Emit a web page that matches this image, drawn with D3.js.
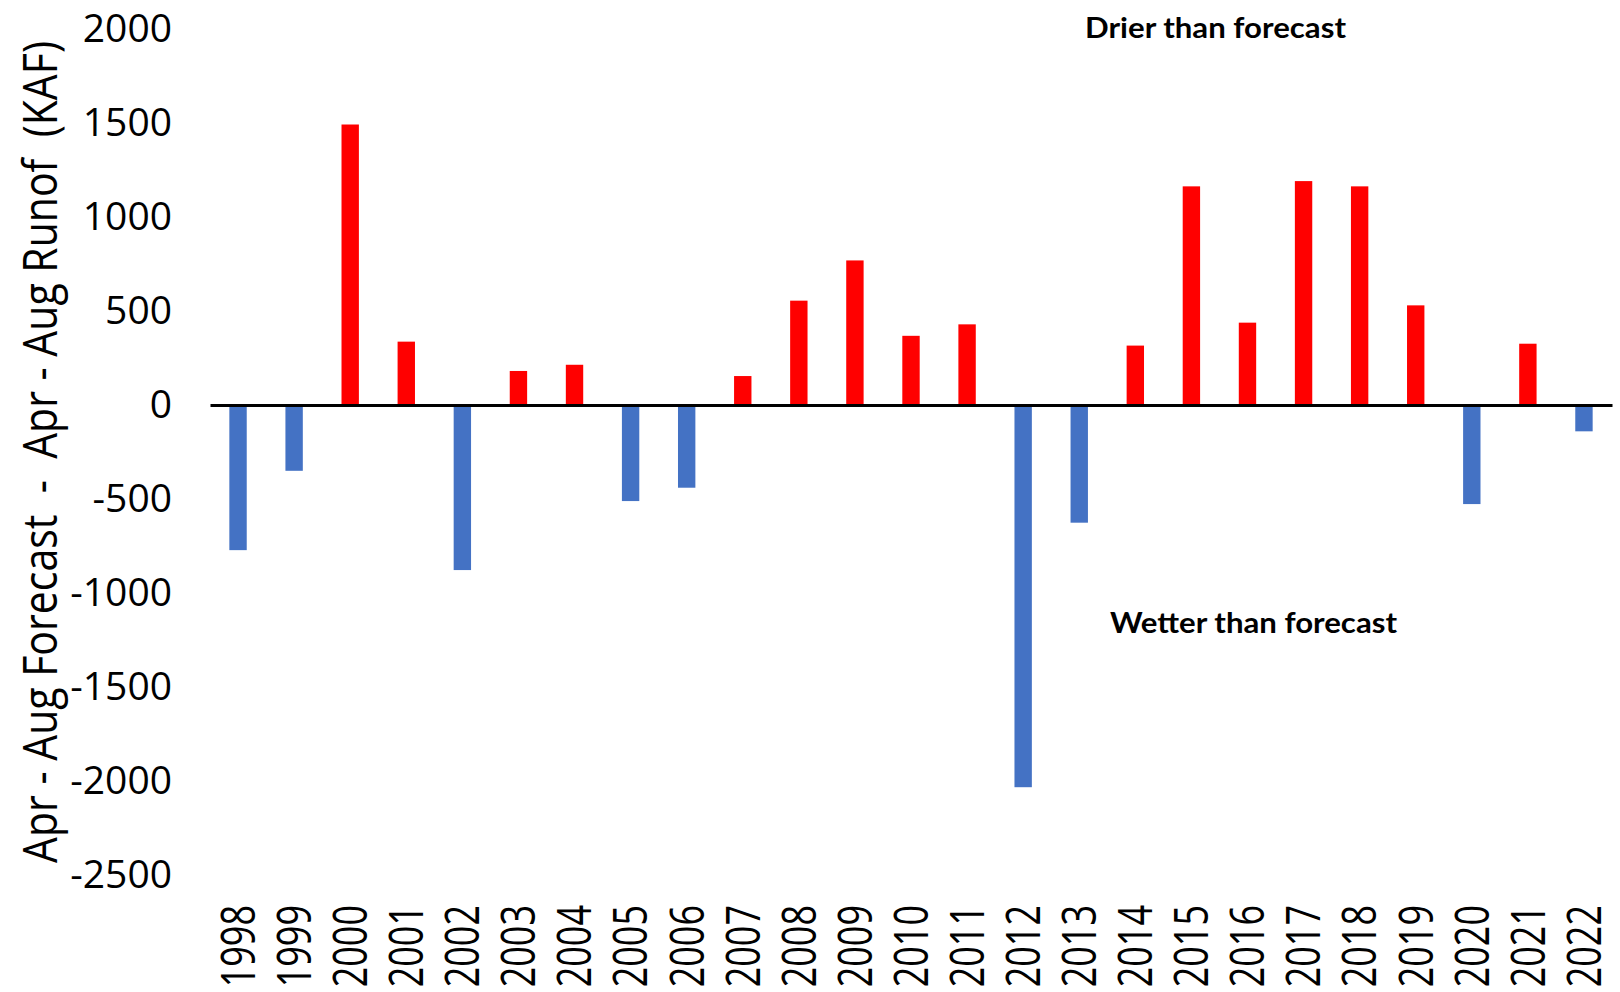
<!DOCTYPE html>
<html>
<head>
<meta charset="utf-8">
<script src="https://cdn.jsdelivr.net/npm/d3@7"></script>
<style>
  html, body { margin: 0; padding: 0; background: #fff; }
  svg { display: block; }
</style>
</head>
<body>
<svg id="chart" width="1620" height="992"></svg>
<script>
const years = ["1998","1999","2000","2001","2002","2003","2004","2005","2006","2007","2008","2009","2010","2011","2012","2013","2014","2015","2016","2017","2018","2019","2020","2021","2022"];
const differences = [-772, -350, 1492, 337, -878, 181, 214, -511, -440, 154, 555, 769, 368, 429, -2033, -626, 316, 1163, 438, 1191, 1163, 530, -527, 326, -140];
const yTicks = [2000, 1500, 1000, 500, 0, -500, -1000, -1500, -2000, -2500];
const yTitle = "Apr - Aug Forecast  -  Apr - Aug Runof  (KAF)";
const noteDrier = "Drier than forecast";
const noteWetter = "Wetter than forecast";

const svg = d3.select("#chart");
const x = d3.scaleBand().domain(years).range([210, 1612]).paddingInner(0.69).paddingOuter(0.345);
const y = d3.scaleLinear().domain([-2500, 2000]).range([875, 29]);

// bars
svg.append("g").selectAll("rect").data(years).join("rect")
  .attr("x", d => x(d))
  .attr("width", x.bandwidth())
  .attr("y", (d, i) => y(Math.max(0, differences[i])))
  .attr("height", (d, i) => Math.abs(y(differences[i]) - y(0)))
  .attr("fill", (d, i) => differences[i] >= 0 ? "#FF0000" : "#4472C4");

// zero line (x axis domain)
const zeroAxis = svg.append("g").attr("transform", `translate(0,${y(0)})`)
  .call(d3.axisBottom(x).tickSize(0).tickFormat(""));
zeroAxis.select(".domain").attr("stroke", "#000").attr("stroke-width", 3);
zeroAxis.selectAll(".tick").remove();

// year labels
const xLab = svg.append("g").attr("transform", "translate(0,905)")
  .call(d3.axisBottom(x).tickSize(0));
xLab.select(".domain").remove();
xLab.selectAll("text")
  .attr("font-family", "'Open Sans', sans-serif")
  .attr("font-size", 36)
  .attr("fill", "#000")
  .attr("x", 0).attr("y", 0).attr("dy", "0.36em")
  .attr("text-anchor", "end")
  .attr("transform", "scale(1.3,1) rotate(-90)");

// y axis labels
const yAx = svg.append("g").attr("transform", "translate(172,0)")
  .call(d3.axisLeft(y).tickValues(yTicks).tickSize(0).tickPadding(0).tickFormat(d3.format("d")));
yAx.select(".domain").remove();
yAx.selectAll("text")
  .attr("font-family", "'Open Sans', sans-serif")
  .attr("font-size", 39)
  .attr("fill", "#000")
  .attr("dy", "0.32em")
  .text(d => String(d).replace("−", "-"));

// y title
svg.append("text")
  .attr("transform", "translate(57,452) scale(1.3,1) rotate(-90)")
  .attr("text-anchor", "middle")
  .attr("font-family", "'Open Sans', sans-serif")
  .attr("font-size", 36)
  .attr("fill", "#000")
  .attr("textLength", 822)
  .attr("lengthAdjust", "spacingAndGlyphs")
  .style("white-space", "pre")
  .attr("xml:space", "preserve")
  .text(yTitle);

// annotations
svg.append("text")
  .attr("x", 1085).attr("y", 38)
  .attr("font-family", "Lato, sans-serif").attr("font-weight", 700)
  .attr("font-size", 28).attr("fill", "#000")
  .attr("textLength", 261).attr("lengthAdjust", "spacingAndGlyphs")
  .text(noteDrier);
svg.append("text")
  .attr("x", 1110).attr("y", 633)
  .attr("font-family", "Lato, sans-serif").attr("font-weight", 700)
  .attr("font-size", 29).attr("fill", "#000")
  .attr("textLength", 287).attr("lengthAdjust", "spacingAndGlyphs")
  .text(noteWetter);
</script>
</body>
</html>
